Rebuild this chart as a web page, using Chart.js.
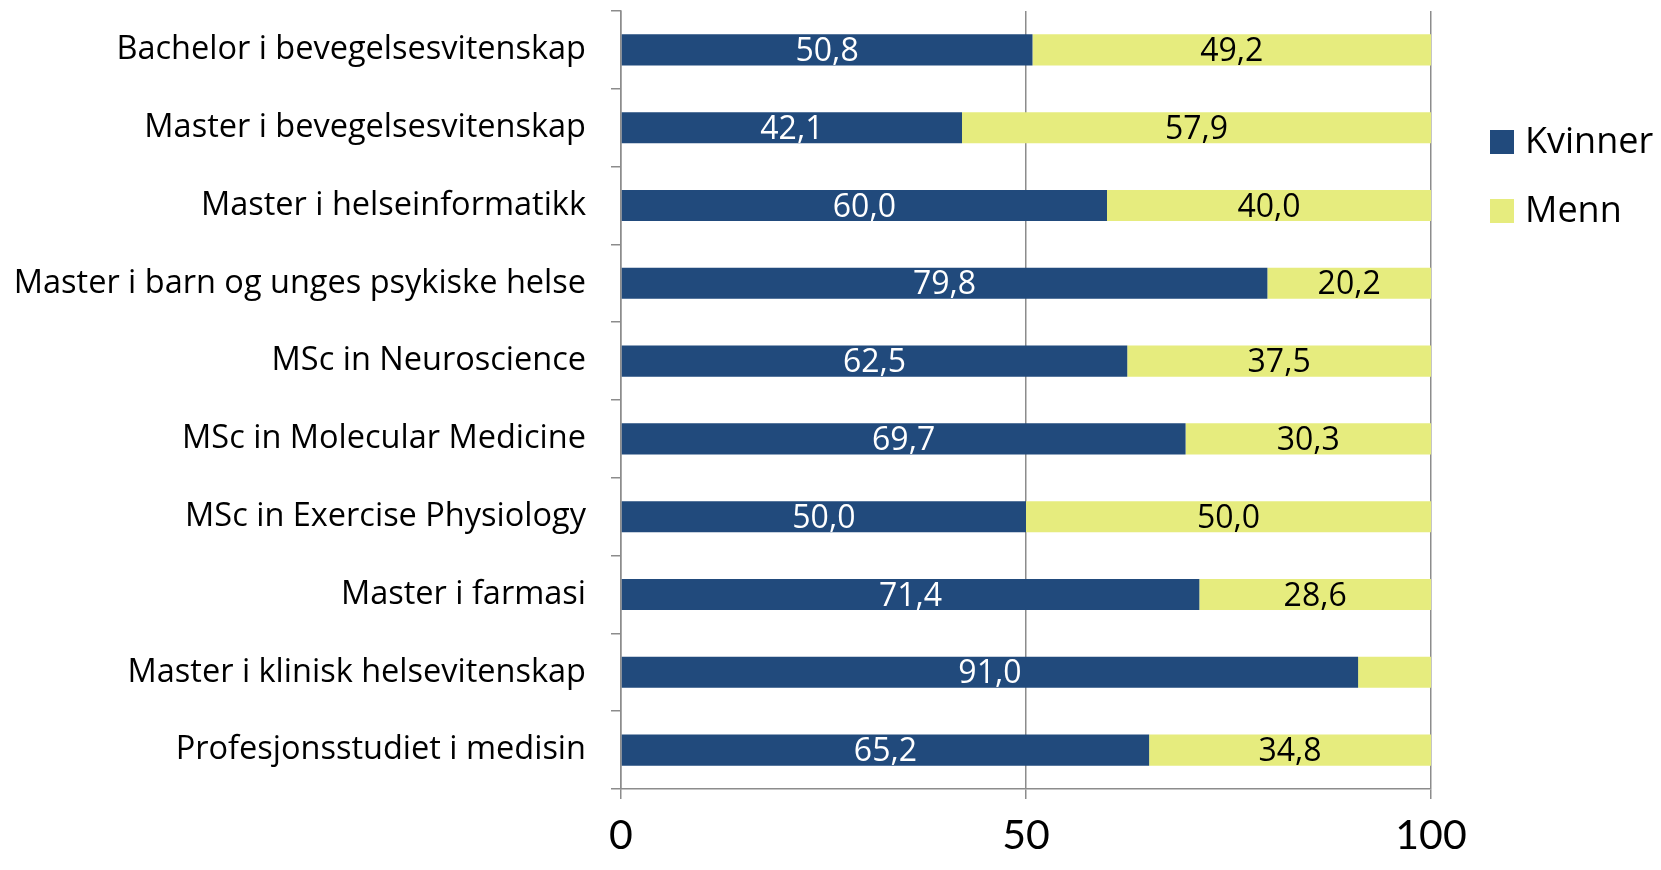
<!DOCTYPE html>
<html><head><meta charset="utf-8">
<script src="https://cdn.jsdelivr.net/npm/chart.js@4"></script>
<style>html,body{margin:0;padding:0;background:#fff}#wrap{width:1661px;height:870px;position:relative}</style>
</head><body><div id="wrap"><canvas id="c" width="1661" height="870"></canvas></div>
<script>
const categories = [
  "Bachelor i bevegelsesvitenskap",
  "Master i bevegelsesvitenskap",
  "Master i helseinformatikk",
  "Master i barn og unges psykiske helse",
  "MSc in Neuroscience",
  "MSc in Molecular Medicine",
  "MSc in Exercise Physiology",
  "Master i farmasi",
  "Master i klinisk helsevitenskap",
  "Profesjonsstudiet i medisin"
];
const kvinner = [50.8, 42.1, 60.0, 79.8, 62.5, 69.7, 50.0, 71.4, 91.0, 65.2];
const menn    = [49.2, 57.9, 40.0, 20.2, 37.5, 30.3, 50.0, 28.6, 9.0, 34.8];
const mennLabelShown = [true, true, true, true, true, true, true, true, false, true];
const xTicks = [0, 50, 100];
const seriesNames = ["Kvinner", "Menn"];

const FONT = "'Open Sans', Lato, sans-serif";
const TICKFONT = "Lato, 'Open Sans', sans-serif";
const BLUE = "#214A7C";
const YELLOW = "#E6EC7E";
const GRID = "#8C8C8C";

const fmt = v => v.toFixed(1).replace('.', ',');

const labelPlugin = {
  id: 'barLabels',
  afterDatasetsDraw(chart) {
    const ctx = chart.ctx;
    ctx.save();
    ctx.font = "32px " + FONT;
    ctx.textAlign = 'center';
    ctx.textBaseline = 'middle';
    chart.data.datasets.forEach((ds, di) => {
      const meta = chart.getDatasetMeta(di);
      meta.data.forEach((bar, i) => {
        if (di === 1 && !mennLabelShown[i]) return;
        const p = bar.getProps(['x', 'y', 'base'], true);
        const cx = (p.x + p.base) / 2;
        ctx.fillStyle = di === 0 ? '#FFFFFF' : '#000000';
        ctx.fillText(fmt(ds.data[i]), cx, p.y + 2);
      });
    });
    ctx.restore();
  }
};

const legendPlugin = {
  id: 'customLegend',
  afterDraw(chart) {
    const ctx = chart.ctx;
    ctx.save();
    ctx.font = "36px " + FONT;
    ctx.textBaseline = 'middle';
    ctx.textAlign = 'left';
    const x0 = 1490, y0 = 142, gap = 69, box = 24;
    chart.data.datasets.forEach((ds, i) => {
      const y = y0 + i * gap;
      ctx.fillStyle = ds.backgroundColor;
      ctx.fillRect(x0, y - box / 2, box, box);
      ctx.fillStyle = '#000';
      ctx.fillText(ds.label, x0 + 35, y + 1);
    });
    ctx.restore();
  }
};

new Chart(document.getElementById('c'), {
  type: 'bar',
  data: {
    labels: categories,
    datasets: [
      { label: seriesNames[0], data: kvinner, backgroundColor: BLUE, borderWidth: 0,
        barPercentage: 0.8, categoryPercentage: 0.5 },
      { label: seriesNames[1], data: menn, backgroundColor: YELLOW, borderWidth: 0,
        barPercentage: 0.8, categoryPercentage: 0.5 }
    ]
  },
  options: {
    indexAxis: 'y',
    responsive: false,
    animation: false,
    layout: { padding: { top: 11, right: 230, left: 0, bottom: 0 } },
    plugins: { legend: { display: false }, tooltip: { enabled: false } },
    scales: {
      x: {
        stacked: true,
        min: 0, max: 100,
        afterBuildTicks: s => { s.ticks = xTicks.map(v => ({ value: v })); },
        afterFit: s => { s.height = 81; s.paddingLeft = 0; s.paddingRight = 0; },
        grid: { color: GRID, lineWidth: 1.5, tickLength: 10, drawTicks: true },
        border: { color: GRID, width: 1.5 },
        ticks: { color: '#000', font: { family: TICKFONT, size: 41 }, padding: 12 }
      },
      y: {
        stacked: true,
        afterFit: s => { s.width = 621; s.paddingTop = 0; s.paddingBottom = 0; },
        grid: { offset: true, drawOnChartArea: false, color: GRID, lineWidth: 1.5, tickLength: 10 },
        border: { color: GRID, width: 1.5 },
        ticks: { color: '#000', font: { family: FONT, size: 32.5 }, padding: 25 }
      }
    }
  },
  plugins: [labelPlugin, legendPlugin]
});
</script></body></html>
